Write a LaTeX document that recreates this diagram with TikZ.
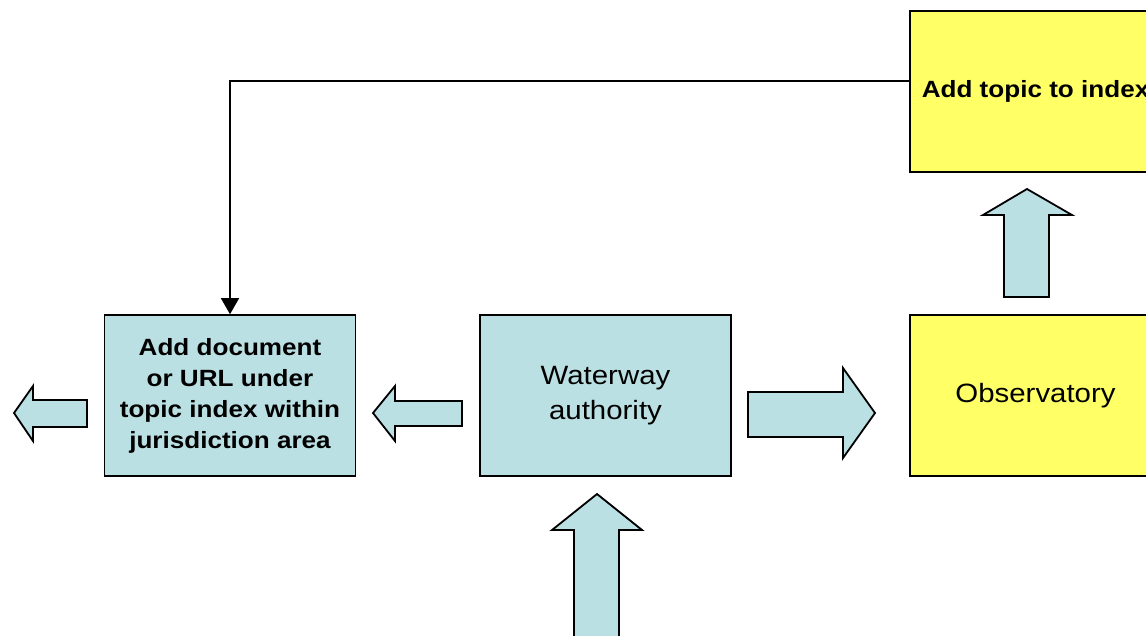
\documentclass[tikz,border=0pt]{standalone}
\usepackage{fontspec}
\setmainfont{Liberation Sans}
\usepackage{graphicx}
\usetikzlibrary{arrows.meta}
\definecolor{boxblue}{RGB}{187,224,227}
\definecolor{boxyellow}{RGB}{255,255,102}
\newcommand{\sx}[1]{\scalebox{1.11}[1]{#1}}
\tikzset{
  procbox/.style={draw=black, line width=1.6pt, fill=boxblue, minimum width=251pt, minimum height=161pt, inner sep=0pt, align=center},
  ybox/.style={procbox, fill=boxyellow},
  blockarrow/.style={draw=black, line width=1.8pt, fill=boxblue, line join=miter},
  conn/.style={draw=black, line width=1.5pt, -{Triangle[length=16pt,width=18pt]}},
  boldtxt/.style={font=\fontsize{23.5}{31}\selectfont\bfseries},
  regtxt/.style={font=\fontsize{26.5}{35}\selectfont}
}
\begin{document}
\begin{tikzpicture}[x=1pt,y=-1pt]
\clip (0,0) rectangle (1146,635);
\fill[white] (0,0) rectangle (1146,635);

\node[procbox, boldtxt] (left) at (230,395.5) {\sx{Add document}\\\sx{or URL under}\\\sx{topic index within}\\\sx{jurisdiction area}};
\node[procbox, regtxt] (water) at (605.5,395.5) {\sx{Waterway}\\\sx{authority}};
\node[ybox, regtxt] (obs) at (1035.5,395.5) {\sx{Observatory}};
\node[ybox, boldtxt] (top) at (1035.5,91.5) {\sx{Add topic to index}};

\draw[conn] ([yshift=10.5pt]top.west) -| (left.north);

% block arrows
\draw[blockarrow] (14,413) -- (33,386) -- (33,400) -- (87,400) -- (87,427) -- (33,427) -- (33,441) -- cycle;
\draw[blockarrow] (373,413) -- (395,386) -- (395,401) -- (462,401) -- (462,426) -- (395,426) -- (395,441) -- cycle;
\draw[blockarrow] (875,413) -- (843,368) -- (843,392) -- (748,392) -- (748,437) -- (843,437) -- (843,458) -- cycle;
\draw[blockarrow] (597,494) -- (642,530) -- (619,530) -- (619,645) -- (574,645) -- (574,530) -- (552,530) -- cycle;
\draw[blockarrow] (1027,189) -- (1072,215) -- (1049,215) -- (1049,297) -- (1004,297) -- (1004,215) -- (983,215) -- cycle;
\end{tikzpicture}
\end{document}
